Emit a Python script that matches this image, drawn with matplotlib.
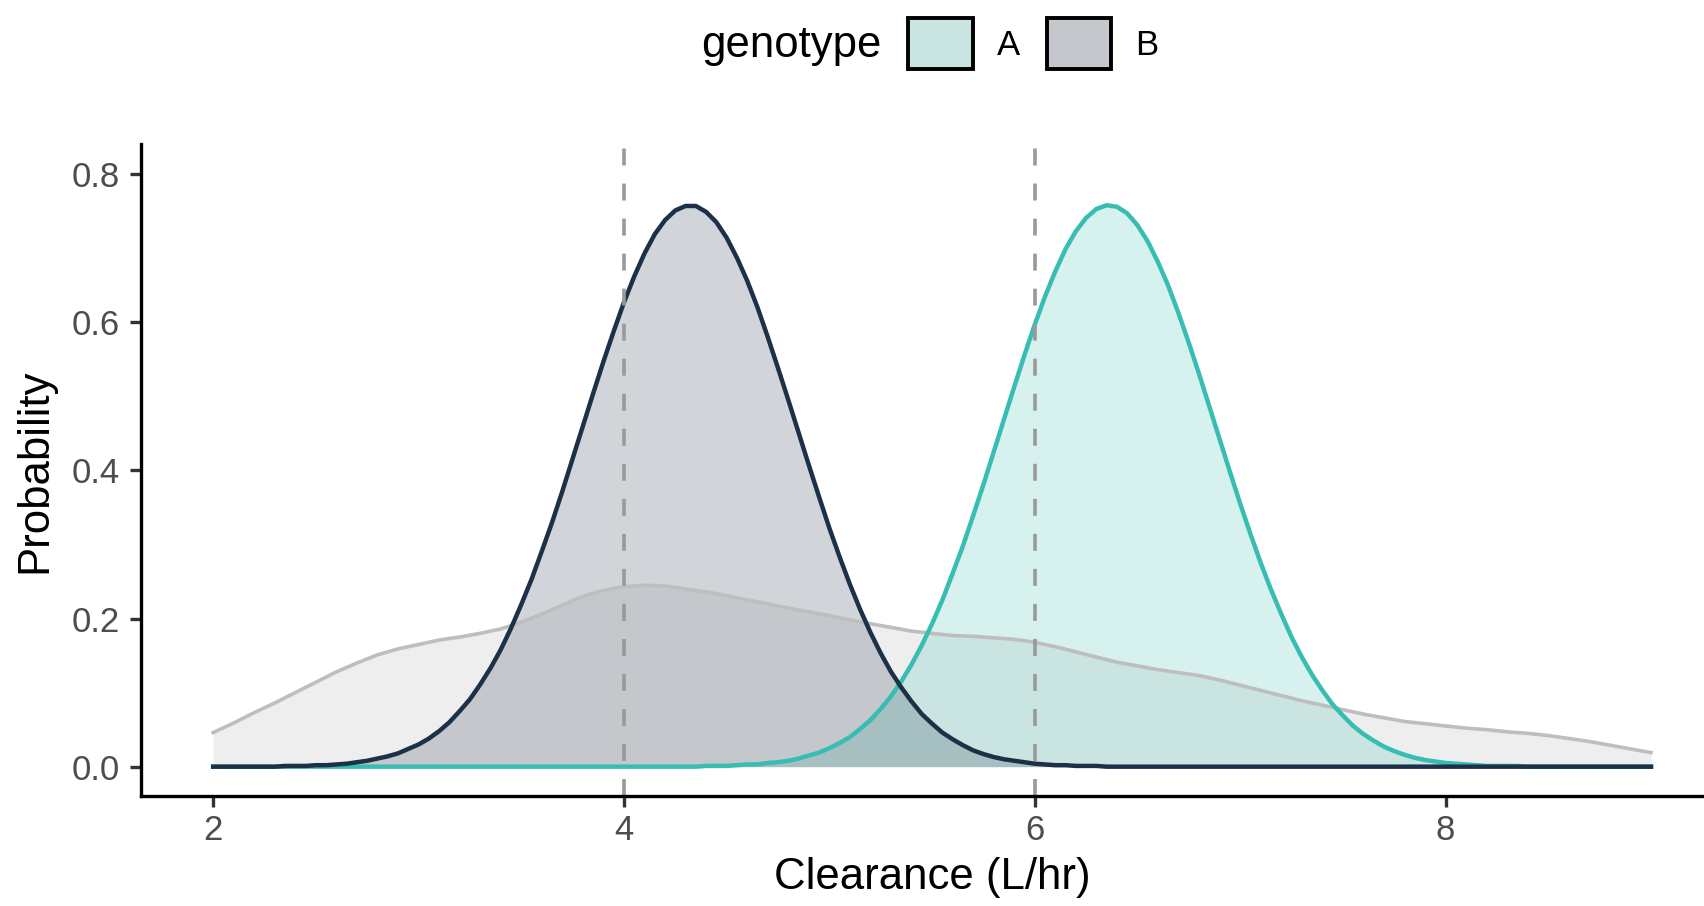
import numpy as np
import matplotlib.pyplot as plt
from matplotlib.patches import Patch
from matplotlib.colors import to_rgba

plt.rcParams['font.family'] = ['Liberation Sans', 'DejaVu Sans']

# clearance grid (L/hr) for the genotype densities, 0.05 steps
clearance = np.round(np.arange(2.0, 9.001, 0.05), 2)

density_a = [0.0] * 48 + [
    0.001, 0.001, 0.001, 0.002, 0.003, 0.003, 0.005, 0.006, 0.008, 0.011,
    0.015, 0.019, 0.025, 0.032, 0.040, 0.051, 0.063, 0.078, 0.095, 0.115,
    0.138, 0.164, 0.193, 0.225, 0.261, 0.298, 0.339, 0.381, 0.425, 0.469,
    0.513, 0.556, 0.597, 0.635, 0.669, 0.699, 0.723, 0.741, 0.753, 0.758,
    0.756, 0.747, 0.731, 0.709, 0.681, 0.649, 0.612, 0.572, 0.530, 0.486,
    0.442, 0.398, 0.355, 0.314, 0.275, 0.239, 0.206, 0.175, 0.148, 0.124,
    0.103, 0.084, 0.069, 0.055, 0.044, 0.035, 0.027, 0.021, 0.016, 0.012,
    0.009, 0.007, 0.005, 0.004, 0.003, 0.002, 0.001, 0.001, 0.001, 0.001,
] + [0.0] * 13

density_b = [0.0] * 7 + [
    0.001, 0.001, 0.001, 0.002, 0.002, 0.003, 0.004, 0.006, 0.008, 0.011,
    0.014, 0.018, 0.024, 0.030, 0.038, 0.048, 0.060, 0.075, 0.091, 0.111,
    0.133, 0.158, 0.187, 0.219, 0.253, 0.291, 0.330, 0.372, 0.416, 0.460,
    0.504, 0.547, 0.588, 0.627, 0.662, 0.693, 0.719, 0.738, 0.751, 0.757,
    0.757, 0.749, 0.735, 0.714, 0.687, 0.656, 0.620, 0.580, 0.538, 0.495,
    0.451, 0.407, 0.364, 0.322, 0.283, 0.246, 0.212, 0.181, 0.153, 0.128,
    0.107, 0.088, 0.071, 0.058, 0.046, 0.037, 0.029, 0.022, 0.017, 0.013,
    0.010, 0.008, 0.006, 0.004, 0.003, 0.002, 0.002, 0.001, 0.001, 0.001,
] + [0.0] * 54

# pooled (all subjects) density, 0.1 steps
pooled_x = np.round(np.arange(2.0, 9.001, 0.1), 1)
pooled_y = [
    0.046, 0.059, 0.073, 0.086, 0.100, 0.114, 0.128, 0.140, 0.151, 0.159,
    0.165, 0.171, 0.175, 0.180, 0.186, 0.195, 0.206, 0.218, 0.230, 0.238,
    0.243, 0.245, 0.244, 0.240, 0.236, 0.231, 0.225, 0.220, 0.214, 0.209,
    0.204, 0.198, 0.193, 0.188, 0.183, 0.180, 0.177, 0.176, 0.174, 0.172,
    0.168, 0.162, 0.155, 0.148, 0.141, 0.136, 0.131, 0.127, 0.123, 0.117,
    0.110, 0.103, 0.096, 0.089, 0.083, 0.077, 0.071, 0.066, 0.061, 0.058,
    0.055, 0.052, 0.050, 0.047, 0.045, 0.042, 0.038, 0.034, 0.029, 0.024,
    0.019,
]

ref_lines = [4, 6]
genotypes = ['A', 'B']

teal = '#37bdb1'
navy = '#1c3048'
grey = '#bebebe'

W, H = 1704, 906
fig = plt.figure(figsize=(W / 100, H / 100), dpi=100)
ax = fig.add_axes([141.3 / W, 1 - 796.3 / H, (1722.9 - 141.3) / W, (796.3 - 144.5) / H])

ax.fill_between(pooled_x, pooled_y, color=grey, alpha=0.25, lw=0)
ax.plot(pooled_x, pooled_y, color=grey, lw=2.6)

ax.fill_between(clearance, density_a, color=teal, alpha=0.2, lw=0)
ax.plot(clearance, density_a, color=teal, lw=3.2)
ax.fill_between(clearance, density_b, color=navy, alpha=0.2, lw=0)
ax.plot(clearance, density_b, color=navy, lw=3.2)

for v in ref_lines:
    ax.axvline(v, color='#999999', lw=2.6, ls=(0, (4.7, 5.0)))

ax.set_xlim(1.65, 9.35)
ax.set_ylim(-0.04, 0.84)
ax.set_xticks([2, 4, 6, 8])
ax.set_yticks([0.0, 0.2, 0.4, 0.6, 0.8])
ax.set_yticklabels(['0.0', '0.2', '0.4', '0.6', '0.8'])

for s in ['top', 'right']:
    ax.spines[s].set_visible(False)
for s in ['left', 'bottom']:
    ax.spines[s].set_linewidth(2.4)
    ax.spines[s].set_color('black')
ax.tick_params(length=8, width=2.4, color='#333333', labelcolor='#4d4d4d',
               labelsize=25)
ax.tick_params(axis='y', pad=7.4)
ax.tick_params(axis='x', pad=5)

ax.set_xlabel('Clearance (L/hr)', fontsize=31.5)
ax.xaxis.set_label_coords(0.5, (796.3 - 878) / (796.3 - 144.5))
ax.xaxis.label.set_va('center')
ax.set_ylabel('Probability', fontsize=31.5)
ax.yaxis.set_label_coords((34.8 - 141.3) / (1722.9 - 141.3), 0.5)
ax.yaxis.label.set_va('center')

# legend
fig.text(701 / W, 1 - 46 / H, 'genotype', fontsize=31.5, ha='left', va='center')
handles = []
for c in [teal, navy]:
    handles.append((Patch(fc=to_rgba(grey, 0.25), ec='none'),
                    Patch(fc=to_rgba(c, 0.2), ec='black', lw=2.8)))
fig.legend(handles, genotypes, loc='center left',
           bbox_to_anchor=(908.5 / W, 1 - 43.5 / H), ncol=2, frameon=False,
           fontsize=25, handlelength=1.87, handleheight=1.87,
           handletextpad=0.69, columnspacing=0.75, borderpad=0, borderaxespad=0)

fig.savefig('out.png', dpi=100)
